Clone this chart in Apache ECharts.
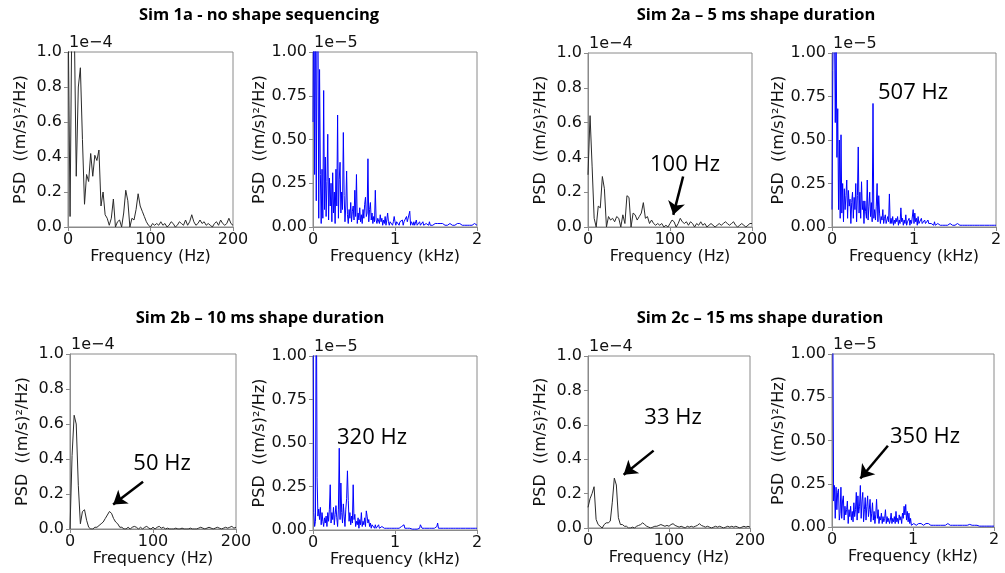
<!DOCTYPE html>
<html><head><meta charset="utf-8">
<script src="https://cdn.jsdelivr.net/npm/echarts@6/dist/echarts.min.js"></script>
<style>html,body{margin:0;padding:0;background:#fff}#c{width:1005px;height:573px}</style>
</head><body><div id="c"></div>
<script>
// ---------------- DATA ----------------
// Low-frequency PSD (units of 1e-4 (m/s)^2/Hz), sampled every 2.5 Hz from 0 to 200 Hz
const hzStep = 2.5;
const khzStep = 0.01;
const psd1a_hz = [
 1.3,0.06,1.4,1.2,0.29,0.8,0.91,0.5,0.13,0.3,
 0.26,0.42,0.29,0.41,0.38,0.44,0.12,0.2,0.07,0.05,
 0.01,0.05,0.16,0.0,0.03,0.04,0.0,0.08,0.21,0.15,
 0.0,0.05,0.04,0.1,0.19,0.12,0.09,0.06,0.03,0.01,
 0.0,0.02,0.01,0.02,0.01,0.03,0.01,0.02,0.0,0.01,
 0.03,0.02,0.0,0.01,0.03,0.02,0.01,0.04,0.01,0.03,
 0.07,0.03,0.01,0.02,0.04,0.02,0.03,0.01,0.02,0.01,
 0.0,0.02,0.03,0.01,0.04,0.02,0.01,0.02,0.05,0.02,
 0.01];
const psd2a_hz = [
 0.3,0.64,0.35,0.05,0.0,0.12,0.11,0.29,0.22,0.0,
 0.06,0.04,0.05,0.03,0.06,0.05,0.0,0.07,0.02,0.18,
 0.17,0.0,0.08,0.07,0.04,0.06,0.08,0.14,0.05,0.06,
 0.02,0.04,0.02,0.01,0.02,0.01,0.02,0.0,0.01,0.0,
 0.02,0.04,0.03,0.0,0.02,0.05,0.03,0.02,0.03,0.01,
 0.03,0.02,0.0,0.02,0.01,0.03,0.01,0.02,0.0,0.01,
 0.02,0.01,0.0,0.01,0.02,0.01,0.02,0.03,0.02,0.01,
 0.02,0.03,0.01,0.0,0.01,0.02,0.01,0.0,0.01,0.02,
 0.02];
const psd2b_hz = [
 0.0,0.42,0.65,0.6,0.25,0.03,0.1,0.11,0.05,0.01,
 0.0,0.0,0.01,0.01,0.02,0.03,0.04,0.06,0.08,0.1,
 0.09,0.06,0.04,0.03,0.01,0.01,0.0,0.0,0.01,0.0,
 0.01,0.015,0.01,0.0,0.01,0.0,0.01,0.015,0.005,0.0,
 0.01,0.0,0.01,0.015,0.005,0.01,0.0,0.005,0.0,0.0,
 0.0,0.005,0.0,0.0,0.005,0.0,0.0,0.0,0.005,0.0,
 0.0,0.0,0.005,0.01,0.005,0.0,0.005,0.01,0.005,0.0,
 0.005,0.01,0.005,0.0,0.005,0.01,0.005,0.01,0.015,0.005,
 0.01];
const psd2c_hz = [
 0.12,0.17,0.2,0.24,0.05,0.02,0.01,0.0,0.02,0.03,
 0.03,0.04,0.15,0.29,0.25,0.06,0.02,0.02,0.01,0.01,
 0.0,0.0,0.005,0.0,0.01,0.015,0.02,0.03,0.02,0.01,
 0.005,0.0,0.005,0.01,0.01,0.015,0.02,0.015,0.01,0.015,
 0.01,0.02,0.025,0.015,0.01,0.005,0.01,0.005,0.0,0.01,
 0.005,0.01,0.005,0.01,0.015,0.025,0.015,0.01,0.005,0.01,
 0.005,0.0,0.005,0.01,0.005,0.01,0.005,0.0,0.005,0.01,
 0.005,0.01,0.005,0.01,0.005,0.0,0.005,0.01,0.005,0.01,
 0.005];
// Full-band PSD (units of 1e-5 (m/s)^2/Hz), sampled every 0.01 kHz from 0 to 2 kHz
const psd1a_khz = [
 0.6,1.5,0.3,1.4,0.15,1.2,1.3,0.05,0.9,0.3,
 0.02,0.33,0.05,0.78,0.1,0.4,0.06,0.26,0.53,0.04,
 0.28,0.12,0.25,0.03,0.31,0.08,0.2,0.02,0.33,0.12,
 0.64,0.05,0.27,0.37,0.08,0.2,0.1,0.54,0.18,0.03,
 0.12,0.32,0.07,0.02,0.1,0.05,0.14,0.03,0.09,0.12,
 0.04,0.21,0.06,0.3,0.02,0.08,0.04,0.11,0.03,0.07,
 0.02,0.1,0.05,0.13,0.17,0.06,0.08,0.39,0.03,0.1,
 0.14,0.04,0.08,0.02,0.06,0.03,0.21,0.04,0.02,0.05,
 0.04,0.02,0.07,0.03,0.05,0.01,0.04,0.02,0.06,0.01,
 0.04,0.08,0.03,0.01,0.03,0.02,0.04,0.01,0.03,0.06,
 0.03,0.01,0.03,0.02,0.04,0.01,0.03,0.02,0.02,0.04,
 0.01,0.03,0.02,0.04,0.06,0.03,0.02,0.04,0.09,0.01,
 0.03,0.02,0.01,0.03,0.01,0.02,0.04,0.01,0.02,0.01,
 0.03,0.01,0.02,0.01,0.03,0.01,0.02,0.01,0.02,0.01,
 0.02,0.01,0.03,0.01,0.02,0.01,0.01,0.02,0.01,0.02,
 0.01,0.01,0.02,0.01,0.01,0.02,0.01,0.01,0.02,0.01,
 0.01,0.01,0.01,0.02,0.01,0.01,0.01,0.02,0.01,0.01,
 0.01,0.01,0.02,0.01,0.01,0.01,0.02,0.01,0.01,0.02,
 0.01,0.01,0.01,0.02,0.01,0.01,0.02,0.01,0.01,0.01,
 0.02,0.01,0.01,0.02,0.01,0.01,0.01,0.02,0.01,0.01,
 0.01];
const psd2a_khz = [
 0.1,0.9,1.4,1.2,0.6,1.1,0.4,0.68,0.1,0.5,
 0.05,0.53,0.08,0.25,0.03,0.22,0.1,0.18,0.27,0.05,
 0.21,0.12,0.16,0.02,0.14,0.2,0.05,0.17,0.1,0.25,
 0.03,0.18,0.46,0.08,0.2,0.05,0.26,0.1,0.15,0.02,
 0.15,0.09,0.05,0.27,0.04,0.12,0.2,0.06,0.14,0.03,
 0.71,0.05,0.1,0.04,0.12,0.25,0.03,0.18,0.08,0.02,
 0.06,0.04,0.1,0.02,0.05,0.07,0.02,0.04,0.06,0.03,
 0.19,0.02,0.05,0.02,0.06,0.01,0.04,0.02,0.05,0.03,
 0.06,0.01,0.04,0.02,0.11,0.03,0.05,0.01,0.04,0.02,
 0.07,0.01,0.03,0.02,0.05,0.01,0.04,0.02,0.03,0.1,
 0.02,0.08,0.03,0.05,0.01,0.06,0.02,0.03,0.01,0.05,
 0.02,0.03,0.01,0.04,0.02,0.03,0.01,0.04,0.02,0.03,
 0.01,0.02,0.01,0.02,0.01,0.03,0.01,0.02,0.01,0.02,
 0.01,0.02,0.01,0.01,0.02,0.01,0.01,0.02,0.01,0.01,
 0.02,0.01,0.01,0.01,0.02,0.01,0.01,0.01,0.02,0.01,
 0.01,0.01,0.01,0.02,0.01,0.01,0.01,0.01,0.02,0.01,
 0.01,0.01,0.01,0.01,0.02,0.01,0.01,0.01,0.01,0.01,
 0.02,0.01,0.01,0.01,0.01,0.01,0.02,0.01,0.01,0.01,
 0.01,0.01,0.02,0.01,0.01,0.01,0.01,0.01,0.02,0.01,
 0.01,0.01,0.01,0.01,0.02,0.01,0.01,0.01,0.01,0.01,
 0.01];
const psd2b_khz = [
 1.5,0.1,0.02,0.05,1.5,0.3,0.08,0.12,0.06,0.13,
 0.03,0.1,0.05,0.02,0.07,0.04,0.08,0.02,0.1,0.05,
 0.12,0.26,0.04,0.1,0.06,0.13,0.03,0.09,0.14,0.07,
 0.02,0.12,0.47,0.06,0.27,0.1,0.04,0.15,0.08,0.02,
 0.12,0.18,0.34,0.17,0.05,0.1,0.03,0.08,0.04,0.26,
 0.06,0.09,0.02,0.05,0.03,0.07,0.01,0.06,0.03,0.1,
 0.02,0.05,0.03,0.07,0.02,0.11,0.08,0.04,0.06,0.02,
 0.04,0.01,0.03,0.02,0.04,0.01,0.03,0.01,0.02,0.01,
 0.03,0.01,0.02,0.01,0.02,0.01,0.02,0.01,0.01,0.02,
 0.01,0.02,0.01,0.01,0.02,0.01,0.01,0.02,0.01,0.01,
 0.02,0.01,0.01,0.01,0.02,0.01,0.01,0.01,0.02,0.01,
 0.01,0.03,0.01,0.01,0.02,0.01,0.01,0.01,0.01,0.01,
 0.01,0.005,0.01,0.01,0.005,0.01,0.01,0.005,0.01,0.01,
 0.01,0.03,0.03,0.01,0.005,0.01,0.01,0.005,0.01,0.01,
 0.005,0.01,0.01,0.005,0.01,0.01,0.005,0.01,0.01,0.005,
 0.01,0.02,0.04,0.01,0.005,0.01,0.01,0.005,0.01,0.01,
 0.005,0.01,0.01,0.005,0.01,0.01,0.005,0.01,0.01,0.005,
 0.01,0.01,0.005,0.01,0.01,0.005,0.01,0.01,0.005,0.01,
 0.01,0.005,0.01,0.01,0.005,0.01,0.01,0.005,0.01,0.01,
 0.005,0.01,0.01,0.005,0.01,0.01,0.005,0.01,0.01,0.005,
 0.01];
const psd2c_khz = [
 1.5,1.2,0.15,0.24,0.05,0.23,0.1,0.2,0.22,0.04,
 0.08,0.23,0.05,0.15,0.18,0.04,0.12,0.07,0.1,0.15,
 0.02,0.1,0.06,0.12,0.04,0.09,0.03,0.14,0.06,0.1,
 0.2,0.04,0.18,0.08,0.12,0.24,0.05,0.15,0.2,0.03,
 0.1,0.17,0.04,0.12,0.18,0.06,0.1,0.16,0.03,0.08,
 0.14,0.04,0.09,0.02,0.07,0.16,0.05,0.1,0.02,0.06,
 0.04,0.08,0.02,0.06,0.03,0.05,0.1,0.02,0.06,0.03,
 0.05,0.02,0.04,0.08,0.02,0.05,0.03,0.06,0.02,0.09,
 0.03,0.05,0.02,0.07,0.04,0.06,0.02,0.08,0.05,0.12,
 0.07,0.13,0.04,0.09,0.03,0.08,0.02,0.05,0.01,0.02,
 0.01,0.02,0.01,0.03,0.01,0.02,0.01,0.02,0.03,0.01,
 0.02,0.01,0.03,0.01,0.02,0.01,0.02,0.03,0.01,0.02,
 0.01,0.02,0.01,0.02,0.01,0.01,0.02,0.01,0.01,0.02,
 0.01,0.01,0.02,0.01,0.01,0.01,0.02,0.01,0.01,0.01,
 0.01,0.01,0.01,0.02,0.01,0.01,0.01,0.01,0.01,0.01,
 0.01,0.01,0.01,0.01,0.01,0.01,0.01,0.01,0.01,0.01,
 0.01,0.01,0.01,0.01,0.01,0.01,0.01,0.01,0.01,0.015,
 0.015,0.01,0.01,0.01,0.01,0.01,0.01,0.01,0.01,0.01,
 0.005,0.005,0.005,0.005,0.005,0.005,0.005,0.005,0.005,0.005,
 0.005,0.005,0.005,0.005,0.005,0.005,0.005,0.005,0.005,0.005,
 0.005];

const panelTitles = ['Sim 1a - no shape sequencing','Sim 2a \u2013 5 ms shape duration','Sim 2b \u2013 10 ms shape duration','Sim 2c \u2013 15 ms shape duration'];
const hzTicks = [0, 100, 200];
const khzTicks = [0, 1, 2];
const hzExponent = '1e\u22124';
const khzExponent = '1e\u22125';
const yName = 'PSD  ((m/s)\u00b2/Hz)';
const xNameHz = 'Frequency (Hz)';
const xNameKHz = 'Frequency (kHz)';

// ---------------- LAYOUT ----------------
const panels = [
 {d: psd1a_hz,  kind:'hz',  g:{l:68, t:52, w:165,h:175}},
 {d: psd1a_khz, kind:'khz', g:{l:313,t:52, w:164,h:175}},
 {d: psd2a_hz,  kind:'hz',  g:{l:588,t:53, w:164,h:174}},
 {d: psd2a_khz, kind:'khz', g:{l:832,t:53, w:164,h:174}},
 {d: psd2b_hz,  kind:'hz',  g:{l:70, t:354,w:166,h:175}},
 {d: psd2b_khz, kind:'khz', g:{l:313,t:356,w:164,h:174}},
 {d: psd2c_hz,  kind:'hz',  g:{l:588,t:356,w:162,h:172}},
 {d: psd2c_khz, kind:'khz', g:{l:832,t:354,w:162,h:173}}
];
// arrows in data coordinates: [panelIndex, [x0,y0], [x1,y1]]
const arrows = [
 [2, [116, 0.29], [104, 0.07]],
 [4, [88, 0.27], [52, 0.14]],
 [6, [81, 0.45], [44, 0.31]],
 [7, [0.69, 0.47], [0.35, 0.28]]
];
const notes = [
 {t:'100 Hz', x:685, y:165},
 {t:'507 Hz', x:913, y:93},
 {t:'50 Hz',  x:162, y:464},
 {t:'320 Hz', x:372, y:438},
 {t:'33 Hz',  x:673, y:418},
 {t:'350 Hz', x:925, y:437}
];
const titlePos = [[259,15],[756,15],[260,318],[760,318]];

const MPL = 'DejaVu Sans';
const spine = '#8a8a8a';
const grids = [], xAxes = [], yAxes = [], series = [], graphics = [];

panels.forEach((p, i) => {
  const hz = p.kind === 'hz';
  grids.push({left:p.g.l, top:p.g.t, width:p.g.w, height:p.g.h, show:true, borderColor:spine, borderWidth:1, containLabel:false});
  const ticks = hz ? hzTicks : khzTicks;
  xAxes.push({
    type:'value', gridIndex:i, min:ticks[0], max:ticks[ticks.length-1], interval:ticks[1]-ticks[0],
    name: hz ? xNameHz : xNameKHz, nameLocation:'middle', nameGap:22,
    nameTextStyle:{fontFamily:MPL, fontSize:16, color:'#111'},
    axisLine:{show:true, lineStyle:{color:spine, width:1}},
    axisTick:{show:true, length:4, lineStyle:{color:spine}},
    axisLabel:{fontFamily:MPL, fontSize:16, color:'#111', margin:5},
    splitLine:{show:false}
  });
  yAxes.push({
    type:'value', gridIndex:i, min:0, max:1, interval: hz ? 0.2 : 0.25,
    name: yName, nameLocation:'middle', nameGap: hz ? 39 : 44,
    nameTextStyle:{fontFamily:MPL, fontSize:16, color:'#111'},
    axisLine:{show:true, lineStyle:{color:spine, width:1}},
    axisTick:{show:true, length:4, lineStyle:{color:spine}},
    axisLabel:{fontFamily:MPL, fontSize:16, color:'#111', margin:6,
      formatter: v => hz ? v.toFixed(1) : v.toFixed(2)},
    splitLine:{show:false}
  });
  const step = hz ? hzStep : khzStep;
  const s = {
    type:'line', xAxisIndex:i, yAxisIndex:i, symbol:'none', showSymbol:false, clip:true,
    animation:false, silent:true,
    lineStyle:{color: hz ? '#2a2a2a' : '#0000ff', width:1},
    data: p.d.map((v, k) => [+(k*step).toFixed(4), v])
  };
  const ar = arrows.filter(a => a[0] === i);
  if (ar.length) {
    s.markLine = {
      silent:true, animation:false, symbol:['none','arrow'], symbolSize:13,
      label:{show:false}, lineStyle:{color:'#000', width:2.5, type:'solid'},
      emphasis:{disabled:true},
      data: ar.map(a => [{coord:a[1]},{coord:a[2]}])
    };
  }
  series.push(s);
  graphics.push({type:'text', x:p.g.l + 1, y:p.g.t - 1, silent:true,
    style:{text: hz ? hzExponent : khzExponent, font:'16px "DejaVu Sans"', fill:'#111', textAlign:'left', textVerticalAlign:'bottom'}});
});

panelTitles.forEach((t, i) => {
  graphics.push({type:'text', x:titlePos[i][0], y:titlePos[i][1], silent:true,
    style:{text:t, font:'bold 16.5px "Open Sans"', fill:'#000', textAlign:'center', textVerticalAlign:'middle'}});
});
notes.forEach(n => {
  graphics.push({type:'text', x:n.x, y:n.y, silent:true,
    style:{text:n.t, font:'22px "Open Sans"', fill:'#000', textAlign:'center', textVerticalAlign:'middle'}});
});

const chart = echarts.init(document.getElementById('c'), null, {renderer:'canvas'});
chart.setOption({
  backgroundColor:'#fff', animation:false,
  grid:grids, xAxis:xAxes, yAxis:yAxes, series:series, graphic:graphics
});
</script></body></html>
